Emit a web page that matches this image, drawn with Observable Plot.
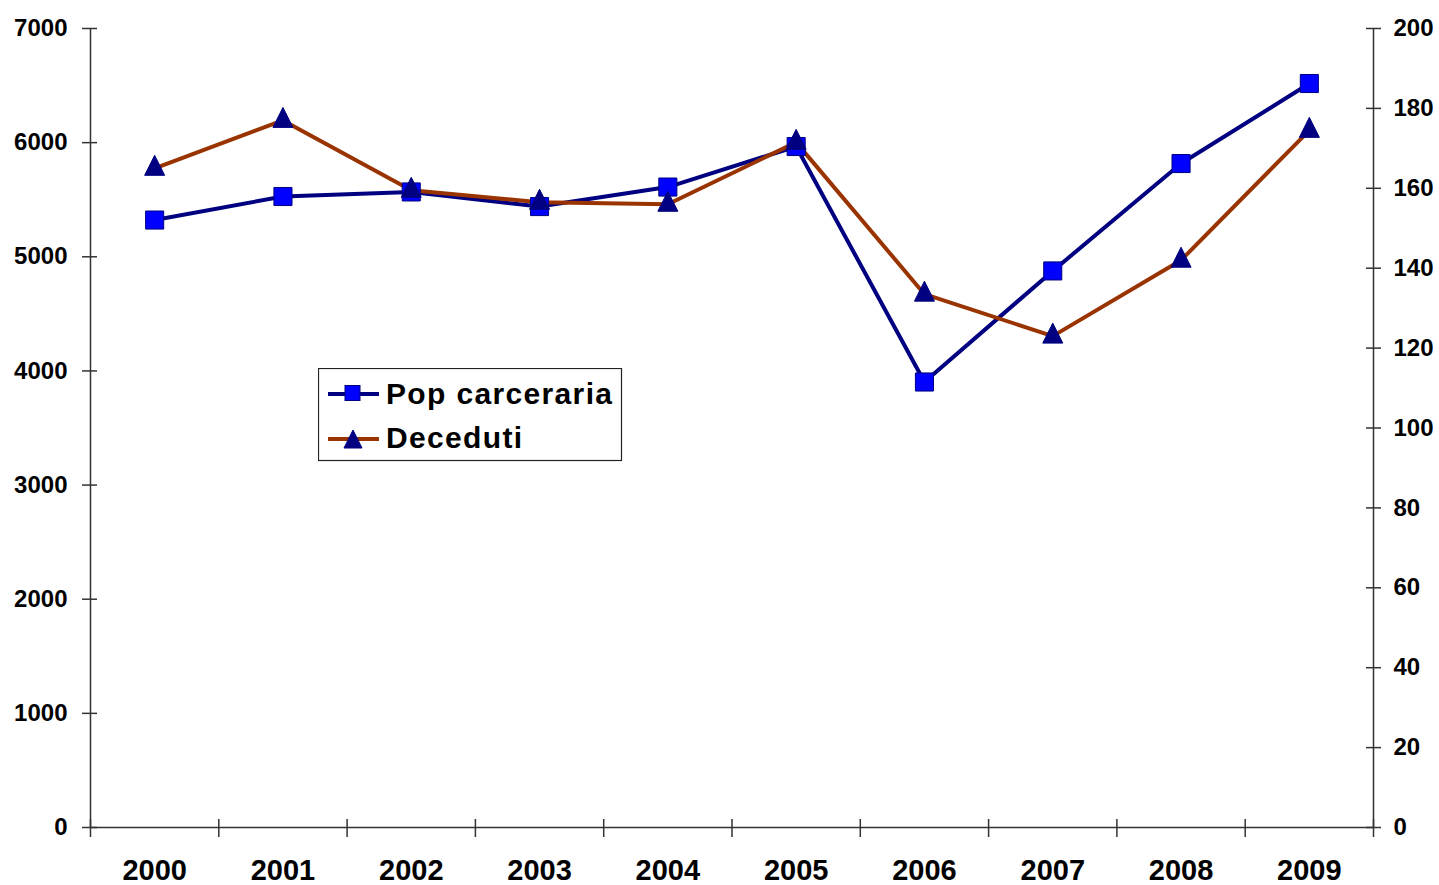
<!DOCTYPE html>
<html>
<head>
<meta charset="utf-8">
<script src="https://cdn.jsdelivr.net/npm/d3@7"></script>
<script src="https://cdn.jsdelivr.net/npm/@observablehq/plot@0.6"></script>
<style>
  html, body { margin: 0; padding: 0; background: #fff; }
  #wrap { position: relative; width: 1439px; height: 885px; }
</style>
</head>
<body>
<div id="wrap"></div>
<script>
// ---- data ----
const years = [2000, 2001, 2002, 2003, 2004, 2005, 2006, 2007, 2008, 2009];
const popCarceraria = [5322, 5528, 5568, 5440, 5611, 5966, 3903, 4876, 5817, 6518];
const deceduti = [165, 177, 159.5, 156.5, 156, 171.5, 133.5, 123, 142, 174.5];
const leftTicks = [0, 1000, 2000, 3000, 4000, 5000, 6000, 7000];
const rightTicks = [0, 20, 40, 60, 80, 100, 120, 140, 160, 180, 200];
const seriesNames = ["Pop carceraria", "Deceduti"];

const leftMax = leftTicks[leftTicks.length - 1];
const rightMax = rightTicks[rightTicks.length - 1];
const k = leftMax / rightMax; // maps right axis onto left scale

const rows = years.map((yr, i) => ({ year: yr, pop: popCarceraria[i], dec: deceduti[i] * k }));
const xEdges = [years[0] - 0.5, ...years.map(y => y + 0.5)];
const xDomain = [xEdges[0], xEdges[xEdges.length - 1]];

const navy = "#000080", blue = "#0000ff", brown = "#993300", axisCol = "#333";

// custom triangle symbol (isoceles, slightly taller than equilateral)
const tri = {
  draw(ctx, size) {
    const r = Math.sqrt(size / Math.PI);
    ctx.moveTo(0, -1.3 * r);
    ctx.lineTo(r, 0.7 * r);
    ctx.lineTo(-r, 0.7 * r);
    ctx.closePath();
  }
};

const chart = Plot.plot({
  width: 1439,
  height: 885,
  marginLeft: 90,
  marginRight: 66,
  marginTop: 28,
  marginBottom: 58,
  style: { fontFamily: "'Liberation Sans', Arial, sans-serif", fontWeight: "bold", color: "#000", background: "#fff" },
  x: { type: "linear", domain: xDomain },
  y: { domain: [0, leftMax] },
  marks: [
    // axis lines
    Plot.ruleX(xDomain, { stroke: axisCol, strokeWidth: 1.5 }),
    Plot.ruleY([0], { stroke: axisCol, strokeWidth: 1.5 }),
    // x tick marks (crossing)
    Plot.axisX(xEdges, { anchor: "bottom", tickSize: 18, dy: -8, tickFormat: () => "", label: null, stroke: axisCol, strokeWidth: 1.5 }),
    // x labels
    Plot.axisX(years, { anchor: "bottom", tickSize: 0, tickPadding: 32, fontSize: 29, tickFormat: d => String(d), label: null }),
    // left ticks
    Plot.axisY(leftTicks, { anchor: "left", tickSize: 15, dx: 7, tickFormat: () => "", label: null, stroke: axisCol, strokeWidth: 1.5 }),
    Plot.axisY(leftTicks, { anchor: "left", tickSize: 0, tickPadding: 23, fontSize: 24, tickFormat: d => String(d), label: null }),
    // right ticks
    Plot.axisY(rightTicks.map(v => v * k), { anchor: "right", tickSize: 15, dx: -8, tickFormat: () => "", label: null, stroke: axisCol, strokeWidth: 1.5 }),
    Plot.axisY(rightTicks.map(v => v * k), { anchor: "right", tickSize: 0, tickPadding: 20, fontSize: 24, tickFormat: d => String(Math.round(d / k)), label: null }),
    // lines
    Plot.line(rows, { x: "year", y: "pop", stroke: navy, strokeWidth: 4 }),
    Plot.line(rows, { x: "year", y: "dec", stroke: brown, strokeWidth: 4 }),
    // markers
    Plot.dot(rows, { x: "year", y: "pop", symbol: "square", r: 10.2, fill: blue, stroke: navy, strokeWidth: 1 }),
    Plot.dot(rows, { x: "year", y: "dec", symbol: tri, r: 10, fill: navy, stroke: navy, strokeWidth: 1 })
  ]
});

const wrap = document.getElementById("wrap");
wrap.appendChild(chart);

// ---- legend ----
const lg = d3.create("svg").attr("width", 306).attr("height", 95)
  .style("position", "absolute").style("left", "318px").style("top", "368px");
lg.append("rect").attr("x", 0.5).attr("y", 0.5).attr("width", 303).attr("height", 92)
  .attr("fill", "#fff").attr("stroke", "#222").attr("stroke-width", 1.2);
// row 1
lg.append("line").attr("x1", 10).attr("x2", 61).attr("y1", 26).attr("y2", 26).attr("stroke", navy).attr("stroke-width", 4);
lg.append("rect").attr("x", 27).attr("y", 17.5).attr("width", 15).attr("height", 15).attr("fill", blue).attr("stroke", navy).attr("stroke-width", 1);
lg.append("text").attr("x", 68).attr("y", 36).text(seriesNames[0])
  .attr("font-family", "'Liberation Sans', Arial, sans-serif").attr("font-weight", "bold").attr("font-size", 30).attr("letter-spacing", 1.35).attr("fill", "#000");
// row 2
lg.append("line").attr("x1", 10).attr("x2", 61).attr("y1", 71).attr("y2", 71).attr("stroke", brown).attr("stroke-width", 4);
lg.append("path").attr("d", "M35,62L44,80L26,80Z").attr("fill", navy).attr("stroke", navy).attr("stroke-width", 1);
lg.append("text").attr("x", 68).attr("y", 80).text(seriesNames[1])
  .attr("font-family", "'Liberation Sans', Arial, sans-serif").attr("font-weight", "bold").attr("font-size", 30).attr("letter-spacing", 1.35).attr("fill", "#000");
wrap.appendChild(lg.node());
</script>
</body>
</html>
